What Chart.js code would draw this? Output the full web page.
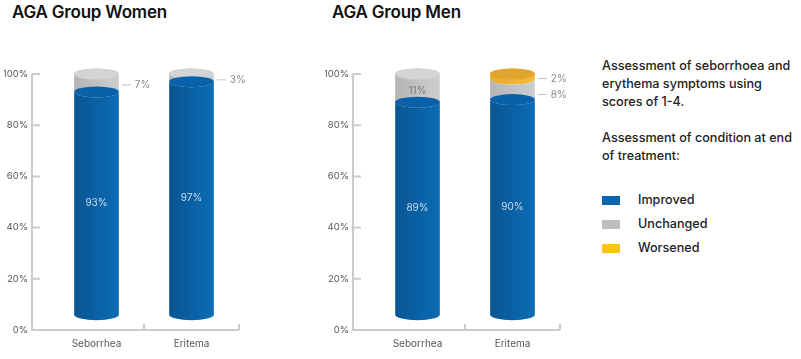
<!DOCTYPE html>
<html>
  <head>
    <title>AGA Group assessment</title>
    <script src="https://cdn.jsdelivr.net/npm/chart.js"></script>
    <style>
      body { margin: 0; background: #fff; font-family: "Inter", sans-serif; }
      #page { position: relative; width: 801px; height: 359px; overflow: hidden; }
      .panel { position: absolute; top: 0; width: 280px; height: 359px; }
      .panel h2 { position: absolute; margin: 0; top: 2px; font-size: 17px; font-weight: 600; color: #111; letter-spacing: -0.2px; }
      .panel canvas { position: absolute; left: 0; top: 0; }
      #notes { position: absolute; left: 602px; top: 57px; width: 193px; font-size: 12.6px; font-weight: 500; line-height: 18px; color: #222; }
      #notes p { margin: 0 0 18px 0; }
      #legend { list-style: none; margin: 0; padding: 0; position: absolute; top: 131px; }
      #legend li { height: 24px; line-height: 24px; position: relative; padding-left: 36px; }
      #legend span { position: absolute; left: 0; top: 8px; width: 18px; height: 9px; }
    </style>
  </head>
  <body>
    <div id="page">
      <div class="panel" style="left: 0px">
        <h2 style="left: 12px">AGA Group Women</h2>
        <canvas id="womenChart" width="280" height="359"></canvas>
      </div>
      <div class="panel" style="left: 321px">
        <h2 style="left: 11px">AGA Group Men</h2>
        <canvas id="menChart" width="280" height="359"></canvas>
      </div>
      <div id="notes">
        <p>Assessment of seborrhoea and erythema symptoms using scores of 1-4.</p>
        <p>Assessment of condition at end of treatment:</p>
        <ul id="legend"></ul>
      </div>
    </div>

    <script>
      const categories = ["Seborrhea", "Eritema"];
      const seriesNames = ["Improved", "Unchanged", "Worsened"];
      const legendColors = ["#0a66b0", "#bdbec0", "#fbc31c"];

      // percentages per category
      const womenImproved = [93, 97];
      const womenUnchanged = [7, 3];
      const womenWorsened = [0, 0];
      const menImproved = [89, 90];
      const menUnchanged = [11, 8];
      const menWorsened = [0, 2];

      const yTickValues = [0, 20, 40, 60, 80, 100];
      const cylinderFloor = 6; // cylinders sit a little above the 0% line

      // body gradient (left -> right) and top face colour for each series
      const cylinderStyles = [
        { dark: "#0a5592", light: "#0b6cb5", face: "#0962a9" },
        { dark: "#b4b5b7", light: "#cdced0", face: "#d3d4d6" },
        { dark: "#eaa92a", light: "#f6bd35", face: "#e0a42f" },
      ];

      // legend
      const legendEl = document.getElementById("legend");
      seriesNames.forEach((name, i) => {
        const li = document.createElement("li");
        li.innerHTML = '<span style="background:' + legendColors[i] + '"></span>' + name;
        legendEl.appendChild(li);
      });

      function floatingSeries(seriesList) {
        // turn stacked percentages into [from, to] pairs
        return seriesList.map((values, s) =>
          values.map((v, i) => {
            if (s === 0) return [cylinderFloor, v];
            let from = 0;
            for (let k = 0; k < s; k++) from += seriesList[k][i];
            return [from, from + v];
          })
        );
      }

      const cylinderPlugin = {
        id: "cylinders",
        afterDatasetsDraw(chart) {
          const ctx = chart.ctx;
          const n = chart.data.datasets.length;
          const ry = 5.5;
          ctx.save();
          chart.data.labels.forEach((label, i) => {
            // draw from the top segment down
            let isTop = true;
            for (let d = n - 1; d >= 0; d--) {
              const raw = chart.data.datasets[d].raw[i];
              if (!raw) continue;
              const el = chart.getDatasetMeta(d).data[i];
              const st = cylinderStyles[d];
              const rx = el.width / 2;
              const l = el.x - rx, r = el.x + rx;
              const g = ctx.createLinearGradient(l, 0, r, 0);
              g.addColorStop(0, st.dark);
              g.addColorStop(1, st.light);
              ctx.beginPath();
              ctx.moveTo(l, el.y);
              ctx.lineTo(l, el.base);
              ctx.ellipse(el.x, el.base, rx, ry, 0, Math.PI, 0, true);
              ctx.lineTo(r, el.y);
              if (isTop) ctx.ellipse(el.x, el.y, rx, ry, 0, 0, Math.PI, true);
              else ctx.ellipse(el.x, el.y, rx, ry, 0, 0, Math.PI, false);
              ctx.closePath();
              ctx.fillStyle = g;
              ctx.fill();
              if (isTop || d === 0) {
                ctx.beginPath();
                ctx.ellipse(el.x, el.y, rx, ry, 0, 0, Math.PI * 2);
                ctx.fillStyle = st.face;
                ctx.fill();
              }
              isTop = false;
            }
          });

          // value labels
          ctx.font = "10px Inter, sans-serif";
          ctx.textBaseline = "middle";
          chart.data.labels.forEach((label, i) => {
            let lastY = -Infinity;
            for (let d = n - 1; d >= 0; d--) {
              const raw = chart.data.datasets[d].raw[i];
              if (!raw) continue;
              const el = chart.getDatasetMeta(d).data[i];
              const mid = (el.y + el.base) / 2;
              if (d === 0) {
                ctx.fillStyle = "#c9dbee";
                ctx.textAlign = "center";
                ctx.fillText(raw + "%", el.x, mid);
              } else if (raw >= 10) {
                ctx.fillStyle = "#7b7b7b";
                ctx.textAlign = "center";
                ctx.fillText(raw + "%", el.x, mid + 3);
              } else {
                const y = Math.max(mid + 2, lastY + 16);
                lastY = y;
                const r = el.x + el.width / 2;
                ctx.strokeStyle = "#c4c4c4";
                ctx.lineWidth = 1;
                ctx.beginPath();
                ctx.moveTo(r + 3, y);
                ctx.lineTo(r + 12, y);
                ctx.stroke();
                ctx.fillStyle = "#8a8a8a";
                ctx.textAlign = "left";
                ctx.fillText(raw + "%", r + 16, y);
              }
            }
          });
          ctx.restore();
        },
      };

      const axisPlugin = {
        id: "axes",
        beforeDatasetsDraw(chart) {
          const ctx = chart.ctx;
          const x = chart.scales.x, y = chart.scales.y;
          const axisX = chart.chartArea.left - 17;
          const y0 = y.getPixelForValue(0);
          ctx.save();
          ctx.strokeStyle = "#cbcbcb";
          ctx.lineWidth = 2;
          ctx.beginPath();
          ctx.moveTo(axisX, y.getPixelForValue(100));
          ctx.lineTo(axisX, y0);
          ctx.lineTo(chart.chartArea.right, y0);
          yTickValues.forEach((v) => {
            if (v === 0) return;
            const py = y.getPixelForValue(v);
            ctx.moveTo(axisX, py);
            ctx.lineTo(axisX + 8, py);
          });
          for (let i = 0; i < categories.length; i++) {
            const bx = i < categories.length - 1
              ? (x.getPixelForValue(i) + x.getPixelForValue(i + 1)) / 2
              : chart.chartArea.right;
            ctx.moveTo(bx, y0);
            ctx.lineTo(bx, y0 - 6);
          }
          ctx.stroke();
          ctx.restore();
        },
      };

      function makeChart(canvasId, seriesList) {
        const ranges = floatingSeries(seriesList);
        return new Chart(document.getElementById(canvasId), {
          type: "bar",
          data: {
            labels: categories,
            datasets: seriesNames.map((name, s) => ({
              label: name,
              data: ranges[s],
              raw: seriesList[s],
              backgroundColor: "rgba(0,0,0,0)",
              borderWidth: 0,
              barPercentage: 0.47,
              categoryPercentage: 1,
              grouped: false,
            })),
          },
          options: {
            responsive: false,
            animation: false,
            layout: { padding: { left: 4, top: 74, bottom: 1, right: 41 } },
            plugins: { legend: { display: false }, tooltip: { enabled: false } },
            scales: {
              x: {
                grid: { display: false, drawTicks: false },
                border: { display: false },
                ticks: { padding: 8, color: "#555", font: { family: "Inter", size: 10 } },
              },
              y: {
                min: 0,
                max: 100,
                afterFit(scale) { scale.width = 45; },
                afterBuildTicks(scale) { scale.ticks = yTickValues.map((v) => ({ value: v })); },
                grid: { display: false, drawTicks: false },
                border: { display: false },
                ticks: {
                  padding: 21,
                  color: "#555",
                  font: { family: "Inter", size: 9.5 },
                  callback: (v) => v + "%",
                },
              },
            },
          },
          plugins: [axisPlugin, cylinderPlugin],
        });
      }

      makeChart("womenChart", [womenImproved, womenUnchanged, womenWorsened]);
      makeChart("menChart", [menImproved, menUnchanged, menWorsened]);
    </script>
  </body>
</html>
